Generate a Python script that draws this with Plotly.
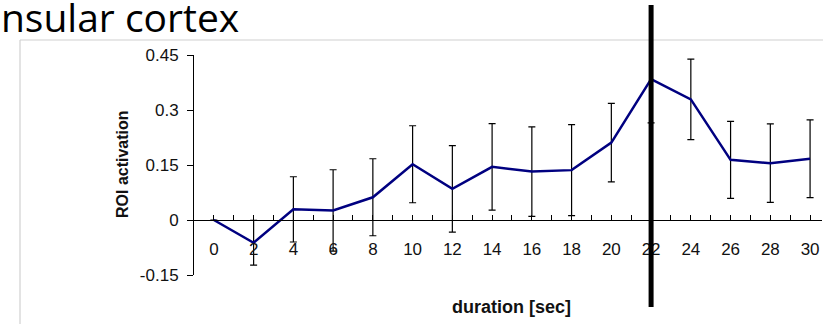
import plotly.graph_objects as go

# ---- data ----
duration = [0, 2, 4, 6, 8, 10, 12, 14, 16, 18, 20, 22, 24, 26, 28, 30]
activation = [0.0, -0.062, 0.029, 0.026, 0.062, 0.152, 0.085, 0.145, 0.132,
              0.136, 0.211, 0.384, 0.329, 0.164, 0.155, 0.167]
error = [None, 0.061, 0.089, 0.111, 0.105, 0.105, 0.118, 0.118, 0.122,
         0.124, 0.107, 0.119, 0.110, 0.105, 0.107, 0.106]
y_tickvals = [-0.15, 0, 0.15, 0.3, 0.45]
y_ticktext = ["-0.15", "0", "0.15", "0.3", "0.45"]
marker_duration = 22
title_text = "Insular cortex"

# ---- layout geometry ----
W, H = 823, 324
L, R, T, B = 194, 1, 55, 49
PW, PH = W - L - R, H - T - B
XR = [-1.0, 30.6]
YR = [-0.15, 0.45]


def px_x(px):
    return (px - L) / PW


def px_y(py):
    return (H - B - py) / PH


fig = go.Figure()
fig.add_trace(go.Scatter(
    x=duration, y=activation, mode="lines",
    line=dict(color="#000080", width=2.5),
    error_y=dict(type="data", array=error, visible=True,
                 color="black", thickness=1.2, width=3.5),
    showlegend=False, hoverinfo="skip",
))

tick_font = dict(family="Liberation Sans, Arial", size=17, color="#111")

fig.update_layout(
    width=W, height=H,
    margin=dict(l=L, r=R, t=T, b=B, pad=0),
    paper_bgcolor="white", plot_bgcolor="white",
    xaxis=dict(
        range=XR, anchor="free", position=(0 - YR[0]) / (YR[1] - YR[0]),
        showline=True, linecolor="black", linewidth=1,
        showgrid=False, zeroline=False,
        tickmode="linear", tick0=0, dtick=2,
        ticks="inside", ticklen=5, tickcolor="black", tickwidth=1,
        minor=dict(dtick=1, tick0=0, ticks="inside", ticklen=5,
                   tickcolor="black", tickwidth=1, showgrid=False),
        tickfont=dict(family="Liberation Sans, Arial", size=17, color="#111"),
        ticklabelstandoff=14,
    ),
    yaxis=dict(
        range=YR, showline=True, linecolor="black", linewidth=1,
        showgrid=False, zeroline=False,
        tickvals=y_tickvals, ticktext=y_ticktext,
        ticks="outside", ticklen=6, tickcolor="black", tickwidth=1,
        tickfont=tick_font, ticklabelstandoff=5,
    ),
    shapes=[
        # chart-area border (top and left edges)
        dict(type="line", xref="paper", yref="paper",
             x0=px_x(20), x1=px_x(W + 5), y0=px_y(40), y1=px_y(40),
             line=dict(color="#d0d0d0", width=1.2)),
        dict(type="line", xref="paper", yref="paper",
             x0=px_x(20), x1=px_x(20), y0=px_y(40), y1=px_y(H + 5),
             line=dict(color="#d0d0d0", width=1.2)),
        # thick vertical marker
        dict(type="line", xref="x", yref="paper",
             x0=marker_duration, x1=marker_duration,
             y0=px_y(5), y1=px_y(307),
             line=dict(color="black", width=5)),
    ],
    annotations=[
        dict(text=title_text, xref="paper", yref="paper",
             x=px_x(-12), y=px_y(16), xanchor="left", yanchor="middle",
             showarrow=False,
             font=dict(family="Open Sans", size=39, color="black")),
        dict(text="<b>ROI activation</b>", xref="paper", yref="paper",
             x=px_x(122), y=px_y(164), xanchor="center", yanchor="middle",
             textangle=-90, showarrow=False,
             font=dict(family="Liberation Sans, Arial", size=16, color="#111")),
        dict(text="<b>duration [sec]</b>", xref="paper", yref="paper",
             x=px_x(511), y=px_y(307), xanchor="center", yanchor="middle",
             showarrow=False,
             font=dict(family="Liberation Sans, Arial", size=18, color="#111")),
    ],
)

fig.write_html("out.html",
               config={"displayModeBar": False, "staticPlot": True},
               post_script="document.body.style.margin='0';"
                           "document.body.style.overflow='hidden';")
